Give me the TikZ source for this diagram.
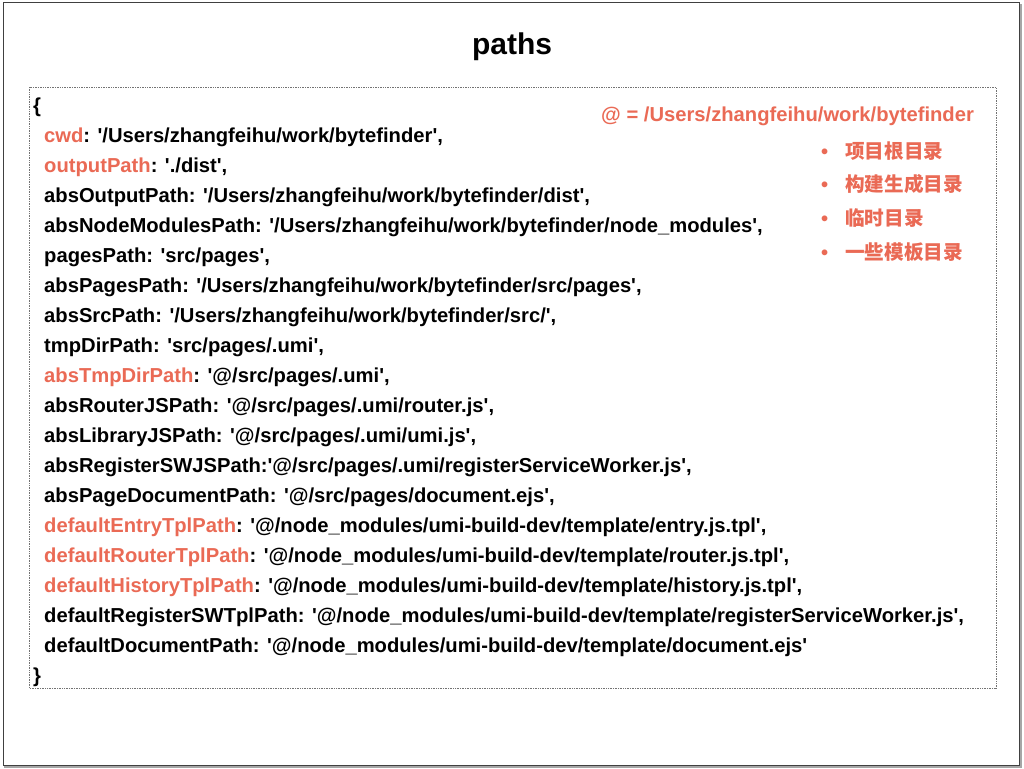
\documentclass[tikz,border=0pt]{standalone}
\usepackage{fontspec}
\newfontfamily\helv{Liberation Sans}
\newfontfamily\cjk{Noto Sans CJK SC}
\definecolor{keyred}{RGB}{234,106,85}
\newcommand{\hl}[1]{\textcolor{keyred}{#1}}

\begin{document}
\begin{tikzpicture}[x=1pt,y=-1pt]
\tikzstyle{every node}+=[inner sep=0pt]
\tikzstyle{codeline}=[anchor=base west,font=\helv\bfseries\fontsize{20.2}{24}\selectfont]
\tikzstyle{legendline}=[anchor=base west,text=keyred,font=\cjk\bfseries\fontsize{19.6}{23}\selectfont]
\useasboundingbox (0,0) rectangle (1024,768);
\fill [white] (0,0) rectangle (1024,768);
% slide frame
\draw [black!35,line width=2] (5,5) rectangle (1021,767);
\draw [black!75,fill=white,line width=1] (3,3) rectangle (1019,765);
\draw [black!55,densely dotted,line width=0.7] (29,87) rectangle (996,688);
\node [font=\helv\bfseries\fontsize{30}{34}\selectfont] (title) at (512,47) {paths};
% code lines
\node [codeline] (open) at (33,112) {\{};
\foreach \txt [count=\i] in {
  {\hl{cwd}: '/Users/zhangfeihu/work/bytefinder',},
  {\hl{outputPath}: './dist',},
  {absOutputPath: '/Users/zhangfeihu/work/bytefinder/dist',},
  {absNodeModulesPath: '/Users/zhangfeihu/work/bytefinder/node\_modules',},
  {pagesPath: 'src/pages',},
  {absPagesPath: '/Users/zhangfeihu/work/bytefinder/src/pages',},
  {absSrcPath: '/Users/zhangfeihu/work/bytefinder/src/',},
  {tmpDirPath: 'src/pages/.umi',},
  {\hl{absTmpDirPath}: '@/src/pages/.umi',},
  {absRouterJSPath: '@/src/pages/.umi/router.js',},
  {absLibraryJSPath: '@/src/pages/.umi/umi.js',},
  {absRegisterSWJSPath:'@/src/pages/.umi/registerServiceWorker.js',},
  {absPageDocumentPath: '@/src/pages/document.ejs',},
  {\hl{defaultEntryTplPath}: '@/node\_modules/umi-build-dev/template/entry.js.tpl',},
  {\hl{defaultRouterTplPath}: '@/node\_modules/umi-build-dev/template/router.js.tpl',},
  {\hl{defaultHistoryTplPath}: '@/node\_modules/umi-build-dev/template/history.js.tpl',},
  {defaultRegisterSWTplPath: '@/node\_modules/umi-build-dev/template/registerServiceWorker.js',},
  {defaultDocumentPath: '@/node\_modules/umi-build-dev/template/document.ejs'}}
  \node [codeline] (line\i) at (44,112+30*\i) {\txt};
\node [codeline] (close) at (33,682) {\}};
% legend
\node [codeline,text=keyred] (root) at (601,121) {@ = /Users/zhangfeihu/work/bytefinder};
\foreach \txt [count=\i] in {项目根目录,构建生成目录,临时目录,一些模板目录} {
  \node [codeline,text=keyred] (dot\i) at (821,124.5+33.7*\i) {\textbullet};
  \node [legendline] (item\i) at (845,124.5+33.7*\i) {\txt};
}
\end{tikzpicture}
\end{document}
